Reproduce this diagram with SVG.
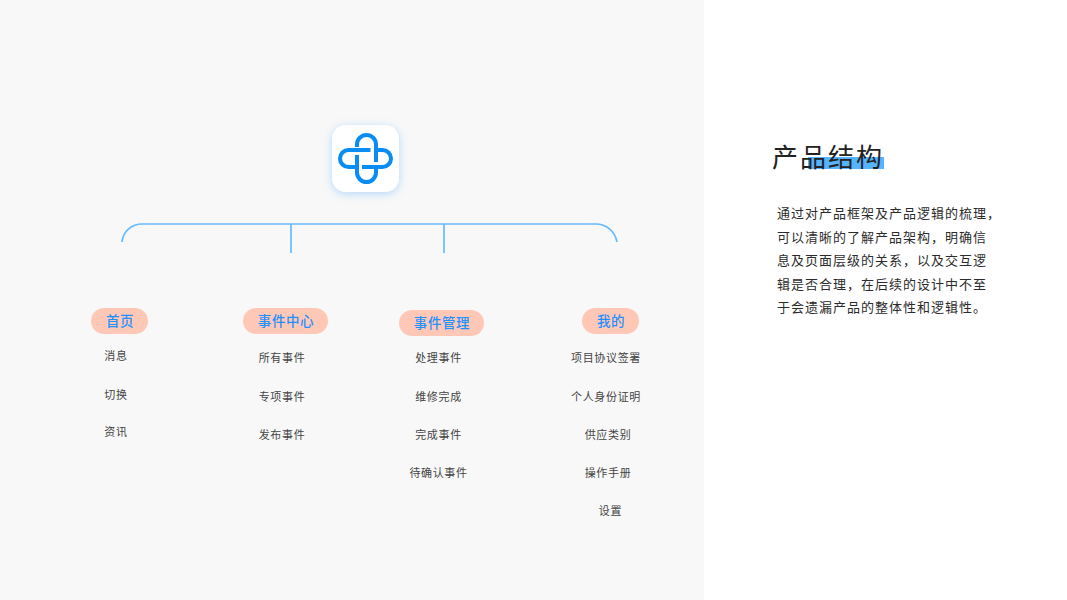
<svg xmlns="http://www.w3.org/2000/svg" width="1067" height="600" viewBox="0 0 1067 600">
<defs>
<filter id="glow" x="-40%" y="-40%" width="180%" height="180%"><feDropShadow dx="0" dy="2" stdDeviation="4" flood-color="#1E90FF" flood-opacity="0.3"/></filter>
</defs>
<style>
text{font-family:"Noto Sans CJK SC","Noto Sans",sans-serif}
.tab{fill:#FFC8B6}
.tl{font-size:13.5px;font-weight:500;fill:#1E90FF;text-anchor:middle;letter-spacing:.6px}
.it{font-size:11px;fill:#444;text-anchor:middle;letter-spacing:.65px}
.body{font-size:13px;fill:#2b2b2b;letter-spacing:1px}
.link{fill:none;stroke:#66BBFF;stroke-width:1.7}
.logo{fill:none;stroke:#0A8CF5;stroke-width:4;stroke-linecap:butt}
</style>
<rect x="0" y="0" width="704" height="600" fill="#F8F8F8"/>
<rect x="704" y="0" width="363" height="600" fill="#FFFFFF"/>
<g id="title">
<rect x="808" y="157" width="76" height="12" fill="#55B3FF"/>
<text x="772" y="167" font-size="26" fill="#222" letter-spacing="2">产品结构</text>
</g>
<g id="description">
<text class="body" x="777" y="218">通过对产品框架及产品逻辑的梳理，</text>
<text class="body" x="777" y="242">可以清晰的了解产品架构，明确信</text>
<text class="body" x="777" y="265">息及页面层级的关系，以及交互逻</text>
<text class="body" x="777" y="289">辑是否合理，在后续的设计中不至</text>
<text class="body" x="777" y="312">于会遗漏产品的整体性和逻辑性。</text>
</g>
<g id="connectors">
<path class="link" d="M122 242C123 231 132 224 142 224H596C606 224 615 231 617 242"/>
<path class="link" d="M291 224V253"/>
<path class="link" d="M444 224V253"/>
</g>
<g id="logo">
<rect x="332" y="125" width="67" height="67" rx="14" fill="#fff" filter="url(#glow)"/>
<path class="logo" d="M370.500 150H348.500A8.500 8.500 0 0 0 348.500 167H355"/>
<path class="logo" d="M357 155V172.500A9.500 9.500 0 0 0 376 172.500V168"/>
<path class="logo" d="M362 167H382.500A8.500 8.500 0 0 0 382.500 150H378"/>
<path class="logo" d="M376 162V144.500A9.500 9.500 0 0 0 357 144.500V147"/>
</g>
<g id="node-home"><rect class="tab" x="91" y="308" width="57" height="26" rx="13"/><text class="tl" x="120" y="326">首页</text>
<text class="it" x="116" y="360">消息</text><text class="it" x="116" y="399">切换</text><text class="it" x="116" y="436">资讯</text></g>
<g id="node-events"><rect class="tab" x="243" y="308" width="85" height="26" rx="13"/><text class="tl" x="286" y="326">事件中心</text>
<text class="it" x="282" y="362">所有事件</text><text class="it" x="282" y="401">专项事件</text><text class="it" x="282" y="439">发布事件</text></g>
<g id="node-manage"><rect class="tab" x="399" y="310" width="85" height="26" rx="13"/><text class="tl" x="442" y="328">事件管理</text>
<text class="it" x="438.500" y="362">处理事件</text><text class="it" x="438.500" y="401">维修完成</text><text class="it" x="438.500" y="439">完成事件</text><text class="it" x="438.500" y="477">待确认事件</text></g>
<g id="node-mine"><rect class="tab" x="582" y="308" width="57" height="26" rx="13"/><text class="tl" x="611" y="326">我的</text>
<text class="it" x="606" y="362">项目协议签署</text><text class="it" x="606" y="401">个人身份证明</text><text class="it" x="608" y="439">供应类别</text><text class="it" x="608" y="477">操作手册</text><text class="it" x="610.500" y="515">设置</text></g>
</svg>
